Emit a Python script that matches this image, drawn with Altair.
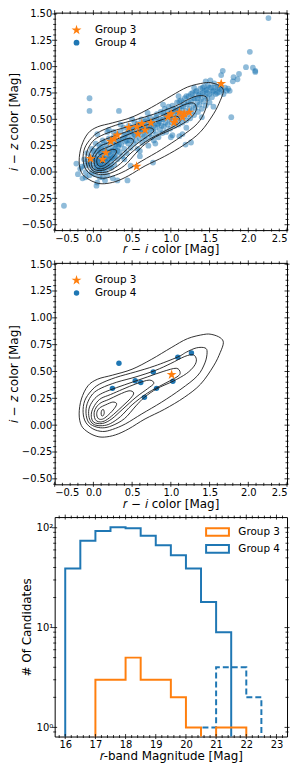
import altair as alt
import pandas as pd

# ---------------- data ----------------
# Panel 1: all candidates (Group 4, translucent blue) -- head of the locus
g4_head = [(-0.22, 0.08), (-0.2, -0.02), (-0.17, 0.03), (-0.15, 0.05), (-0.14, -0.06), (-0.12, 0.12),
           (-0.1, 0.0), (-0.1, -0.05), (-0.08, 0.18), (-0.06, 0.08), (-0.05, -0.03), (-0.03, 0.14),
           (-0.02, 0.22), (0.0, 0.04), (0.0, 0.1), (0.01, 0.17), (0.02, -0.02), (0.03, 0.08),
           (0.04, 0.12), (0.05, 0.02), (0.05, 0.2), (0.05, -0.1), (0.06, 0.15), (0.07, 0.06),
           (0.07, 0.1), (0.08, -0.05), (0.08, 0.25), (0.09, 0.13), (0.1, 0.03), (0.1, 0.08),
           (0.1, 0.18), (0.11, 0.11), (0.12, 0.0), (0.12, 0.15), (0.12, 0.3), (0.13, 0.07),
           (0.14, 0.12), (0.15, 0.04), (0.15, 0.2), (0.15, -0.08), (0.16, 0.1), (0.17, 0.15),
           (0.17, 0.26), (0.18, -0.03), (0.18, 0.07), (0.19, 0.18), (0.2, 0.12), (0.2, 0.23),
           (0.21, 0.05), (0.22, 0.16), (0.22, 0.3), (0.23, 0.1), (0.24, 0.2), (0.25, 0.26),
           (0.25, 0.14), (0.25, -0.06), (0.26, 0.33), (0.27, 0.07), (0.28, 0.22), (0.29, 0.17),
           (0.3, 0.28), (0.3, 0.36), (0.31, 0.12), (0.32, 0.24)]
g4_head_fill = [(-0.04, 0.06), (0.02, 0.13), (0.04, 0.05), (0.06, 0.09), (0.08, 0.02), (0.09, 0.19),
                (0.11, 0.05), (0.13, 0.13), (0.14, 0.22), (0.16, 0.02), (0.17, 0.09), (0.19, 0.13),
                (0.21, 0.19), (0.23, 0.04), (0.24, 0.13), (0.26, 0.21), (0.27, 0.15), (0.29, 0.26),
                (0.31, 0.2), (0.33, 0.26), (-0.08, 0.1), (-0.11, 0.06), (-0.02, 0.0), (0.07, 0.21),
                (0.0, 0.2), (0.03, 0.27), (0.1, 0.24), (0.14, 0.28), (0.2, 0.32), (0.26, 0.38)]
g4_ridge_low = [(0.33, 0.3), (0.34, 0.19), (0.35, 0.38), (0.36, 0.26), (0.37, 0.15), (0.38, 0.32),
                (0.39, 0.42), (0.4, 0.22), (0.41, 0.29), (0.42, 0.36), (0.43, 0.18), (0.44, 0.33),
                (0.45, 0.4), (0.45, 0.27), (0.46, 0.44), (0.47, 0.3), (0.48, 0.23), (0.49, 0.37),
                (0.5, 0.32), (0.51, 0.41), (0.52, 0.27), (0.53, 0.47), (0.54, 0.35), (0.55, 0.3),
                (0.56, 0.4), (0.57, 0.22), (0.58, 0.37), (0.59, 0.44), (0.6, 0.32), (0.61, 0.4),
                (0.62, 0.5), (0.63, 0.28), (0.64, 0.36), (0.65, 0.43), (0.66, 0.34), (0.67, 0.48),
                (0.68, 0.31), (0.69, 0.39), (0.7, 0.45), (0.71, 0.25), (0.72, 0.36), (0.73, 0.52),
                (0.74, 0.41), (0.75, 0.33)]
g4_ridge_mid = [(0.76, 0.46), (0.77, 0.39), (0.78, 0.3), (0.79, 0.5), (0.8, 0.42), (0.81, 0.36),
                (0.82, 0.55), (0.83, 0.45), (0.84, 0.33), (0.85, 0.48), (0.86, 0.4), (0.87, 0.57),
                (0.88, 0.44), (0.89, 0.37), (0.9, 0.5), (0.91, 0.43), (0.92, 0.6), (0.93, 0.47),
                (0.94, 0.38), (0.95, 0.53), (0.96, 0.45), (0.97, 0.62), (0.98, 0.5), (0.99, 0.41),
                (1.0, 0.56), (1.01, 0.47), (1.02, 0.35), (1.03, 0.6), (1.04, 0.52), (1.05, 0.44),
                (1.06, 0.58), (1.07, 0.49), (1.08, 0.66), (1.09, 0.54), (1.1, 0.45), (1.11, 0.6),
                (1.12, 0.51), (1.13, 0.68), (1.14, 0.56), (1.15, 0.47), (1.16, 0.62), (1.17, 0.53),
                (1.18, 0.7), (1.19, 0.58), (1.2, 0.49)]
g4_ridge_high = [(1.21, 0.64), (1.22, 0.55), (1.23, 0.72), (1.24, 0.6), (1.25, 0.51), (1.26, 0.67),
                 (1.27, 0.58), (1.28, 0.75), (1.29, 0.63), (1.3, 0.54), (1.31, 0.7), (1.32, 0.61),
                 (1.33, 0.77), (1.34, 0.66), (1.35, 0.57), (1.36, 0.73), (1.37, 0.64), (1.38, 0.79),
                 (1.39, 0.69), (1.4, 0.6), (1.41, 0.75), (1.42, 0.67), (1.43, 0.81), (1.44, 0.72),
                 (1.45, 0.63), (1.46, 0.78), (1.47, 0.7), (1.48, 0.82), (1.5, 0.74), (1.5, 0.66),
                 (1.52, 0.8), (1.53, 0.71), (1.55, 0.77), (1.56, 0.84), (1.58, 0.74), (1.6, 0.8),
                 (1.62, 0.76), (1.64, 0.82), (1.66, 0.78), (1.68, 0.74), (1.7, 0.8), (1.72, 0.77)]
g4_ridge_fill = [(0.36, 0.31), (0.4, 0.35), (0.43, 0.3), (0.47, 0.38), (0.5, 0.42), (0.53, 0.36),
                 (0.57, 0.46), (0.6, 0.39), (0.63, 0.44), (0.66, 0.4), (0.69, 0.5), (0.72, 0.43),
                 (0.75, 0.48), (0.78, 0.44), (0.81, 0.52), (0.84, 0.46), (0.87, 0.5), (0.9, 0.56),
                 (0.93, 0.54), (0.96, 0.58), (0.99, 0.52), (1.02, 0.63), (1.05, 0.57), (1.08, 0.6),
                 (1.11, 0.67), (1.14, 0.62), (1.17, 0.66), (1.2, 0.72), (1.23, 0.66), (1.26, 0.74),
                 (1.29, 0.7), (1.32, 0.76), (1.35, 0.7), (1.38, 0.74), (1.41, 0.8), (1.44, 0.77),
                 (1.47, 0.75), (1.5, 0.8), (1.54, 0.76), (1.57, 0.8), (1.6, 0.75), (1.63, 0.79),
                 (0.2, 0.4), (0.35, 0.45), (0.5, 0.5), (0.7, 0.56), (0.9, 0.64), (1.1, 0.72),
                 (1.3, 0.8), (1.45, 0.86), (0.4, 0.12), (0.6, 0.2), (0.8, 0.27), (1.0, 0.33),
                 (1.2, 0.42), (1.4, 0.52), (1.55, 0.62)]
g4_outliers = [(2.26, 1.46), (2.02, 1.14), (1.97, 0.995), (2.06, 0.99), (2.09, 0.96), (2.09, 0.95),
               (1.88, 0.93), (1.81, 0.9), (1.86, 0.88), (1.8, 0.86), (1.67, 0.96), (1.65, 0.92),
               (1.74, 0.79), (1.76, 0.77), (1.78, 0.52), (1.51, 0.87), (-0.05, 0.7), (-0.05, 0.58),
               (0.33, 0.58), (1.19, 0.26), (1.15, 0.36), (1.11, 0.34), (0.77, 0.09), (0.6, 0.15),
               (0.48, 0.06), (0.44, -0.08), (0.31, -0.08), (0.04, -0.13), (-0.38, -0.32),
               (0.12, -0.05), (1.26, 0.28), (0.05, 0.36), (0.18, 0.38)]
# Panel 1: Group 3 (orange stars)
g3_all = [(1.65, 0.838), (0.558, 0.053), (-0.036, 0.127), (0.119, 0.121), (0.161, 0.182),
          (0.224, 0.29), (0.267, 0.312), (0.309, 0.351), (0.457, 0.422), (0.562, 0.429),
          (0.625, 0.459), (0.575, 0.361), (0.667, 0.398), (0.743, 0.466), (1.004, 0.552),
          (1.055, 0.496), (1.11, 0.567), (1.173, 0.552), (1.236, 0.567), (1.04, 0.47),
          (0.963, 0.521), (1.15, 0.52)]
# Panel 2: selected objects
g4_sel = [(0.33, 0.577), (0.246, 0.343), (0.54, 0.413), (0.612, 0.398), (0.773, 0.496),
          (0.659, 0.259), (0.815, 0.343), (1.026, 0.41), (1.09, 0.632), (1.266, 0.672)]
g3_sel = [(1.01, 0.47)]

# density contours (same in both colour panels), outer to inner
contour_1 = [(1.678, 0.768), (1.637, 0.815), (1.53, 0.845), (1.425, 0.845), (1.215, 0.806),
             (1.004, 0.722), (0.752, 0.614), (0.499, 0.521), (0.246, 0.466), (0.056, 0.429),
             (-0.07, 0.367), (-0.155, 0.244), (-0.184, 0.105), (-0.155, -0.004), (-0.07, -0.065),
             (0.035, -0.102), (0.141, -0.111), (0.288, -0.09), (0.457, -0.034), (0.667, 0.058),
             (0.92, 0.149), (1.173, 0.259), (1.384, 0.382), (1.552, 0.552), (1.637, 0.676)]
contour_2 = [(1.468, 0.68), (1.44, 0.72), (1.33, 0.72), (1.2, 0.68), (1.089, 0.635), (0.793, 0.552),
             (0.541, 0.496), (0.288, 0.444), (0.078, 0.382), (-0.028, 0.32), (-0.112, 0.228),
             (-0.133, 0.12), (-0.1, 0.028), (-0.007, -0.034), (0.119, -0.059), (0.246, -0.04),
             (0.414, 0.012), (0.625, 0.105), (0.878, 0.213), (1.131, 0.336), (1.342, 0.459),
             (1.44, 0.58)]
contour_3 = [(1.33, 0.61), (1.29, 0.655), (1.18, 0.64), (1.0, 0.575), (0.8, 0.51), (0.55, 0.45),
             (0.3, 0.4), (0.1, 0.345), (-0.01, 0.29), (-0.08, 0.2), (-0.095, 0.11), (-0.065, 0.03),
             (0.01, -0.01), (0.12, -0.025), (0.24, -0.005), (0.4, 0.06), (0.55, 0.18), (0.66, 0.26),
             (0.82, 0.34), (1.03, 0.41), (1.2, 0.48), (1.3, 0.55)]
contour_4 = [(1.12, 0.49), (1.07, 0.53), (0.9, 0.5), (0.7, 0.45), (0.5, 0.4), (0.3, 0.35),
             (0.12, 0.3), (0.02, 0.25), (-0.05, 0.17), (-0.06, 0.09), (-0.03, 0.03), (0.03, 0.0),
             (0.12, -0.005), (0.22, 0.015), (0.35, 0.08), (0.5, 0.19), (0.7, 0.3), (0.9, 0.38),
             (1.08, 0.45)]
contour_5 = [(0.78, 0.39), (0.72, 0.42), (0.55, 0.385), (0.38, 0.335), (0.22, 0.285), (0.1, 0.25),
             (0.03, 0.2), (-0.02, 0.13), (-0.025, 0.07), (0.0, 0.03), (0.06, 0.015), (0.14, 0.02),
             (0.24, 0.06), (0.38, 0.15), (0.55, 0.26), (0.7, 0.34)]
contour_6 = [(0.52, 0.3), (0.46, 0.32), (0.33, 0.285), (0.2, 0.24), (0.1, 0.21), (0.04, 0.17),
             (0.01, 0.12), (0.015, 0.07), (0.04, 0.04), (0.09, 0.03), (0.16, 0.045), (0.26, 0.1),
             (0.38, 0.18), (0.48, 0.25)]
contour_7 = [(0.3, 0.2), (0.25, 0.215), (0.16, 0.19), (0.08, 0.16), (0.045, 0.12), (0.05, 0.075),
             (0.08, 0.055), (0.13, 0.06), (0.2, 0.1), (0.27, 0.155)]
contour_8 = [(0.14, 0.12), (0.13, 0.145), (0.11, 0.14), (0.1, 0.115), (0.105, 0.09), (0.12, 0.085),
             (0.135, 0.1)]

# Panel 3: r-band histograms (bin edges and counts)
g4_edges = [16.0, 16.5, 17.0, 17.5, 18.0, 18.5, 19.0, 19.5, 20.0, 20.5, 21.0, 21.5]
g4_counts = [39, 74, 93, 101, 99, 83, 67, 53, 39, 18, 9]
g3_edges = [17.0, 17.5, 18.0, 18.5, 19.0, 19.5, 20.0, 20.5, 21.0, 21.5, 22.0]
g3_counts = [3, 3, 5, 3, 3, 2, 1, 0, 1, 1]
g4b_edges = [20.5, 21.0, 21.5, 22.0, 22.5]
g4b_counts = [1, 4, 4, 2]

# tick positions / labels
col_x_major = [-0.5, 0.0, 0.5, 1.0, 1.5, 2.0, 2.5]
col_x_minor = [-0.4, -0.3, -0.2, -0.1, 0.1, 0.2, 0.3, 0.4, 0.6, 0.7, 0.8, 0.9, 1.1, 1.2, 1.3, 1.4,
               1.6, 1.7, 1.8, 1.9, 2.1, 2.2, 2.3, 2.4]
col_y_major = [-0.5, -0.25, 0.0, 0.25, 0.5, 0.75, 1.0, 1.25, 1.5]
col_y_minor = [-0.55, -0.45, -0.4, -0.35, -0.3, -0.2, -0.15, -0.1, -0.05, 0.05, 0.1, 0.15, 0.2,
               0.3, 0.35, 0.4, 0.45, 0.55, 0.6, 0.65, 0.7, 0.8, 0.85, 0.9, 0.95, 1.05, 1.1, 1.15,
               1.2, 1.3, 1.35, 1.4, 1.45]
mag_x_major = [16, 17, 18, 19, 20, 21, 22, 23]
mag_x_minor = [15.8, 16.2, 16.4, 16.6, 16.8, 17.2, 17.4, 17.6, 17.8, 18.2, 18.4, 18.6, 18.8,
               19.2, 19.4, 19.6, 19.8, 20.2, 20.4, 20.6, 20.8, 21.2, 21.4, 21.6, 21.8, 22.2,
               22.4, 22.6, 22.8, 23.2]
cnt_y_major = [1, 10, 100]
cnt_y_minor = [0.9, 2, 3, 4, 5, 6, 7, 8, 9, 20, 30, 40, 50, 60, 70, 80, 90]

groups = ["Group 3", "Group 4"]
col_orange = "#ff7f0e"
col_blue = "#1f77b4"
STAR = ("M0,-1L0.2245,-0.309L0.951,-0.309L0.3633,0.118L0.588,0.809L0,0.382"
        "L-0.588,0.809L-0.3633,0.118L-0.951,-0.309L-0.2245,-0.309Z")
RECT = "M-1.5,-0.5L1.5,-0.5L1.5,0.5L-1.5,0.5Z"

W = 234
H1, H2, H3 = 219, 223, 221
TM, Tm = 2.5, 1.5   # half tick lengths (in/out ticks)


def pts_df(points, group):
    return pd.DataFrame({"x": [p[0] for p in points], "y": [p[1] for p in points], "group": group})


def tick_layers(xs, ys, xmaj, xmin, ymaj, ymin, h):
    layers = []
    for vals, half in ((xmaj, TM), (xmin, Tm)):
        d = pd.DataFrame({"v": vals})
        for y0, y1 in ((h - half, h + half), (-half, half)):
            layers.append(alt.Chart(d).mark_rule(color="black", strokeWidth=0.8).encode(
                x=alt.X("v:Q", scale=xs["scale"], axis=xs["axis"]),
                y=alt.value(y0), y2=alt.value(y1)))
    for vals, half in ((ymaj, TM), (ymin, Tm)):
        d = pd.DataFrame({"v": vals})
        for x0, x1 in ((-half, half), (W - half, W + half)):
            layers.append(alt.Chart(d).mark_rule(color="black", strokeWidth=0.8).encode(
                y=alt.Y("v:Q", scale=ys["scale"], axis=ys["axis"]),
                x=alt.value(x0), x2=alt.value(x1)))
    return layers


common_axis = dict(ticks=False, tickSize=0, domain=False, grid=False)


def colour_panel(blue_pts, blue_opacity, blue_size, star_pts, h):
    xs = {"scale": alt.Scale(domain=[-0.5, 2.5], nice=False, zero=False),
          "axis": alt.Axis(values=col_x_major, format=".1f", title="𝑟 − 𝑖 color [Mag]",
                           labelPadding=3, titlePadding=1, **common_axis)}
    ys = {"scale": alt.Scale(domain=[-0.551, 1.512], nice=False, zero=False),
          "axis": alt.Axis(values=col_y_major, format=".2f", title="𝑖 − 𝑧 color [Mag]",
                           labelPadding=3, titlePadding=1, **common_axis)}
    leg = alt.Legend(orient="none", legendX=16.5, legendY=12, title=None, direction="vertical",
                     labelOffset=13, rowPadding=2, symbolOpacity=1, symbolStrokeWidth=0, padding=0,
                     labelFontSize=10.5)
    enc = dict(
        x=alt.X("x:Q", scale=xs["scale"], axis=xs["axis"]),
        y=alt.Y("y:Q", scale=ys["scale"], axis=ys["axis"]),
        color=alt.Color("group:N", scale=alt.Scale(domain=groups, range=[col_orange, col_blue]), legend=leg),
        shape=alt.Shape("group:N", scale=alt.Scale(domain=groups, range=[STAR, "circle"]), legend=leg),
        size=alt.Size("group:N", scale=alt.Scale(domain=groups, range=[110, blue_size]), legend=leg),
    )
    blue = alt.Chart(pts_df(blue_pts, "Group 4")).mark_point(
        filled=True, opacity=blue_opacity, strokeWidth=0).encode(**enc)
    stars = alt.Chart(pts_df(star_pts, "Group 3")).mark_point(
        filled=True, opacity=1, strokeWidth=0).encode(**enc)
    rows = []
    for lev, c in enumerate([contour_1, contour_2, contour_3, contour_4, contour_5, contour_6,
                             contour_7, contour_8]):
        for i, (x, y) in enumerate(c):
            rows.append({"level": lev, "i": i, "x": x, "y": y})
    cont = alt.Chart(pd.DataFrame(rows)).mark_line(
        color="#1a1a1a", strokeWidth=0.9, interpolate="cardinal-closed").encode(
        x=alt.X("x:Q", scale=xs["scale"], axis=xs["axis"]),
        y=alt.Y("y:Q", scale=ys["scale"], axis=ys["axis"]),
        detail="level:N", order="i:Q")
    ticks = tick_layers(xs, ys, col_x_major, col_x_minor, col_y_major, col_y_minor, h)
    return alt.layer(blue, cont, stars, *ticks).properties(width=W, height=h)


all_blue = g4_head + g4_head_fill + g4_ridge_low + g4_ridge_mid + g4_ridge_high + g4_ridge_fill + g4_outliers
p1 = colour_panel(all_blue, 0.5, 34, g3_all, H1)
p2 = colour_panel(g4_sel, 1.0, 30, g3_sel, H2)

# ---- histogram panel ----
FLOOR = 0.3


def step_rows(edges, counts, name):
    rows = [{"x": edges[0], "y": FLOOR}]
    for i, c in enumerate(counts):
        v = c if c > 0 else FLOOR
        rows.append({"x": edges[i], "y": v})
        rows.append({"x": edges[i + 1], "y": v})
    rows.append({"x": edges[-1], "y": FLOOR})
    for k, r in enumerate(rows):
        r["k"] = k
        r["group"] = name
    return rows


hx = {"scale": alt.Scale(domain=[15.65, 23.35], nice=False, zero=False),
      "axis": alt.Axis(values=mag_x_major, format="d", title="𝑟-band Magnitude [Mag]",
                       labelPadding=3, titlePadding=1, **common_axis)}
hy = {"scale": alt.Scale(type="log", domain=[0.81, 128], nice=False),
      "axis": alt.Axis(values=cnt_y_major, title="# Of Candidates",
                       labelExpr="datum.value == 1 ? '10⁰' : (datum.value == 10 ? '10¹' : '10²')",
                       labelPadding=2, titlePadding=3, **common_axis)}
hleg = alt.Legend(orient="none", legendX=155, legendY=6, title=None, direction="vertical",
                  symbolType=RECT, symbolSize=235, symbolStrokeWidth=2, symbolFillColor="white",
                  labelOffset=12, rowPadding=0, padding=0, labelFontSize=10.5)
solid = pd.DataFrame(step_rows(g4_edges, g4_counts, "Group 4") + step_rows(g3_edges, g3_counts, "Group 3"))
dashed = pd.DataFrame(step_rows(g4b_edges, g4b_counts, "Group 4 faint"))
hist_solid = alt.Chart(solid).mark_line(strokeWidth=2, clip=True).encode(
    x=alt.X("x:Q", scale=hx["scale"], axis=hx["axis"]),
    y=alt.Y("y:Q", scale=hy["scale"], axis=hy["axis"]),
    color=alt.Color("group:N", scale=alt.Scale(domain=groups, range=[col_orange, col_blue]), legend=hleg),
    order="k:Q")
hist_dash = alt.Chart(dashed).mark_line(strokeWidth=2, clip=True, color=col_blue,
                                        strokeDash=[6, 3]).encode(
    x=alt.X("x:Q", scale=hx["scale"], axis=hx["axis"]),
    y=alt.Y("y:Q", scale=hy["scale"], axis=hy["axis"]),
    order="k:Q")
p3 = alt.layer(hist_dash, hist_solid,
               *tick_layers(hx, hy, mag_x_major, mag_x_minor, cnt_y_major, cnt_y_minor, H3)
               ).properties(width=W, height=H3)

chart = alt.vconcat(p1, p2, p3, spacing=33, bounds="flush").resolve_scale(
    color="independent", shape="independent", size="independent", x="independent", y="independent"
).properties(padding={"left": -2, "top": -3, "right": 0, "bottom": 0}
).configure_view(stroke="black", strokeWidth=1
).configure_axis(labelFont="DejaVu Sans", titleFont="DejaVu Sans", labelFontSize=10,
                 titleFontSize=12, titleFontWeight="normal", labelColor="black", titleColor="black"
).configure_legend(labelFont="DejaVu Sans", labelColor="black")

chart.save("out.html", embed_options={"renderer": "svg", "actions": False})
